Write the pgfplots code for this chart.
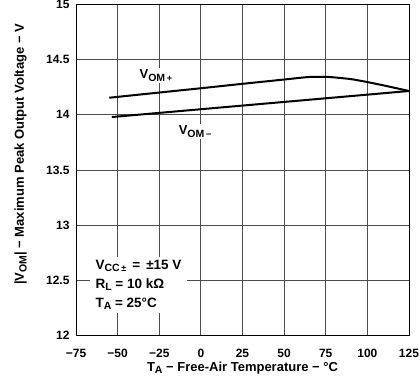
\documentclass[border=0pt]{standalone}
\usepackage{pgfplots}
\pgfplotsset{compat=1.18}
\usepackage{fontspec}
\setmainfont{Liberation Sans}
\newcommand{\Sub}[1]{\raisebox{-2.6pt}{\fontsize{10.5}{10}\selectfont #1}}
\begin{document}
\begin{tikzpicture}
\begin{axis}[
  scale only axis,
  width=333pt, height=331pt,
  xmin=-75, xmax=125, ymin=12, ymax=15,
  xtick={-75,-50,-25,0,25,50,75,100,125},
  xticklabels={−75,−50,−25,0,25,50,75,100,125},
  ytick={12,12.5,13,13.5,14,14.5,15},
  yticklabels={12,12.5,13,13.5,14,14.5,15},
  major tick length=0pt,
  grid=major,
  major grid style={draw=black!70, line width=0.8pt},
  axis line style={line width=0.9pt},
  tick label style={font=\fontsize{12}{14}\selectfont\bfseries},
  xticklabel style={yshift=-10pt},
  yticklabel style={xshift=-3pt},
  label style={font=\fontsize{13}{15}\selectfont\bfseries},
  xlabel={T\Sub{A} − Free-Air Temperature − °C},
  ylabel={|V\Sub{OM}| − Maximum Peak Output Voltage − V},
  xlabel style={at={(axis description cs:0.5,-0.108)}, anchor=base},
  ylabel style={at={(axis description cs:-0.166,0.547)}, anchor=center},
  clip=false,
]
\coordinate (sw) at (rel axis cs:0,0);
\coordinate (ne) at (rel axis cs:1,1);
\addplot[black, line width=2pt, smooth, tension=0.3] coordinates {
  (-55,14.155) (-25,14.202) (0,14.241) (25,14.281) (50,14.32) (65,14.343) (77,14.343) (90,14.324) (100,14.297) (110,14.266) (125,14.216)
};
\addplot[black, line width=2pt] coordinates {
  (-53.5,13.98) (125,14.216)
};
\node[fill=white, inner sep=2pt, font=\fontsize{13}{15}\selectfont\bfseries] at (axis cs:-27,14.355) {V\Sub{OM\,{\fontsize{9}{9}\selectfont +}}};
\node[fill=white, inner sep=2pt, font=\fontsize{13}{15}\selectfont\bfseries] at (axis cs:-3.5,13.85) {V\Sub{OM\,{\fontsize{9}{9}\selectfont −}}};
\node[fill=white, align=left, anchor=west, inner xsep=6pt, inner ysep=3pt, font=\fontsize{13.5}{19}\selectfont\bfseries] at (axis cs:-67,12.46) {V\Sub{CC\,{\fontsize{9}{9}\selectfont ±}} \,=\, ±15 V\\R\Sub{L} = 10 kΩ\\T\Sub{A} = 25°C};
\end{axis}
\pgfresetboundingbox
\path ([shift={(-76pt,-41pt)}]sw) rectangle ([shift={(11pt,4.5pt)}]ne);
\end{tikzpicture}
\end{document}
